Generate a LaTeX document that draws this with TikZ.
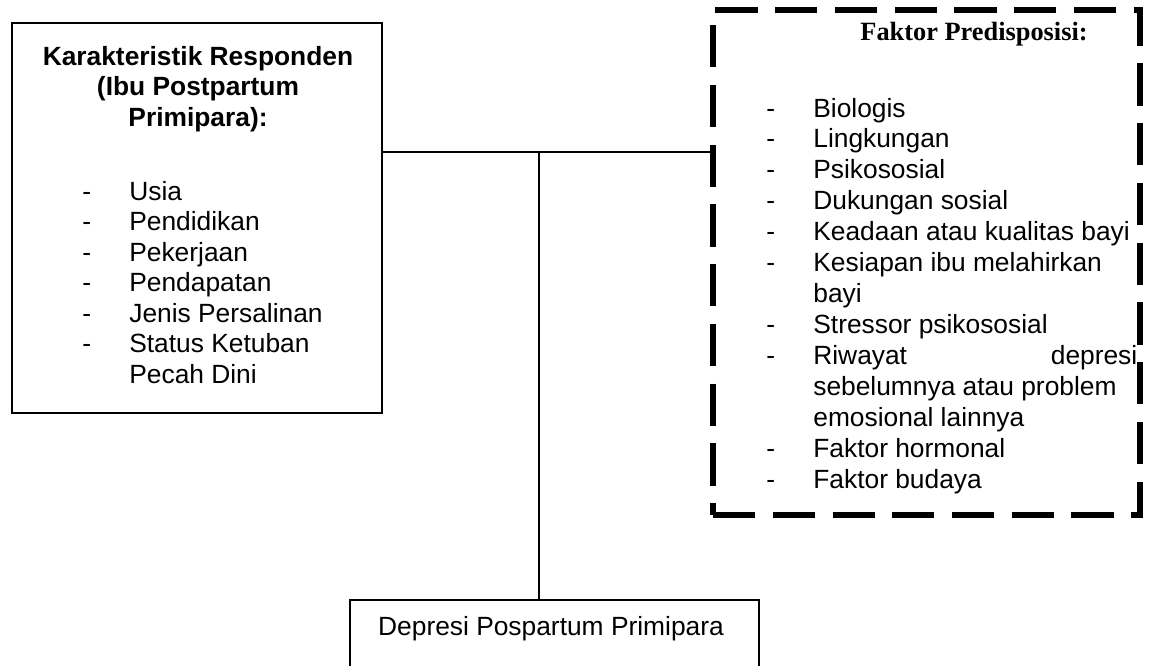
\documentclass[tikz,border=0pt]{standalone}
\usepackage{fontspec}
\setmainfont{Liberation Sans}
\newfontfamily\serifjudul{Liberation Serif}
\usetikzlibrary{positioning}

\begin{document}
\begin{tikzpicture}[x=0.02cm,y=-0.02cm,font=\fontsize{15}{17.4}\selectfont,
 kotak/.style={draw,line width=1.6pt,inner sep=0pt},
 kotakputus/.style={draw,line width=3.1pt,dash pattern=on 24pt off 10pt,inner sep=0pt},
 teks/.style={inner sep=0pt,anchor=base},
 daftar/.style={inner sep=0pt,anchor=base west},
 garis/.style={line width=1.1pt}]
\useasboundingbox (0,0) rectangle (1153,666);
\node[kotak,minimum width=7.4cm,minimum height=7.8cm] (resp) at (197,218) {};
\node[teks,font=\fontsize{15}{17.4}\selectfont\bfseries] (respjudul) at (198,65) {\begin{tabular}[t]{@{}c@{}}Karakteristik Responden\\(Ibu Postpartum\\Primipara):\end{tabular}};
\node[daftar] (resplist) at (82,200) {\begin{tabular}[t]{@{}p{0.94cm}@{}l@{}}
-&Usia\\
-&Pendidikan\\
-&Pekerjaan\\
-&Pendapatan\\
-&Jenis Persalinan\\
-&Status Ketuban\\
&Pecah Dini
\end{tabular}};
\node[kotakputus,minimum width=8.54cm,minimum height=10.1cm] (faktor) at (926.5,262.5) {};
\node[teks,font=\fontsize{15}{17.4}\selectfont\serifjudul\bfseries] (faktorjudul) at (974,40) {Faktor Predisposisi:};
\node[daftar,font=\fontsize{15}{17.6}\selectfont] (faktorlist) at (766,117) {\begin{tabular}[t]{@{}p{0.94cm}@{}p{6.48cm}@{}}
-&Biologis\\
-&Lingkungan\\
-&Psikososial\\
-&Dukungan sosial\\
-&Keadaan atau kualitas bayi\\
-&Kesiapan ibu melahirkan\\
&bayi\\
-&Stressor psikososial\\
-&\makebox[6.48cm][s]{Riwayat depresi}\\
&sebelumnya atau problem\\
&emosional lainnya\\
-&Faktor hormonal\\
-&Faktor budaya
\end{tabular}};
\node[kotak,line width=1.3pt,minimum width=8.18cm,minimum height=1.6cm] (depresi) at (554.5,640) {};
\node[teks] (depresijudul) at (551,635) {Depresi Pospartum Primipara};
\coordinate (cabang) at (539,152);
\draw[garis] (resp.east |- cabang) -- (faktor.west |- cabang);
\draw[garis] (cabang) -- (depresi.north -| cabang);
\end{tikzpicture}
\end{document}
